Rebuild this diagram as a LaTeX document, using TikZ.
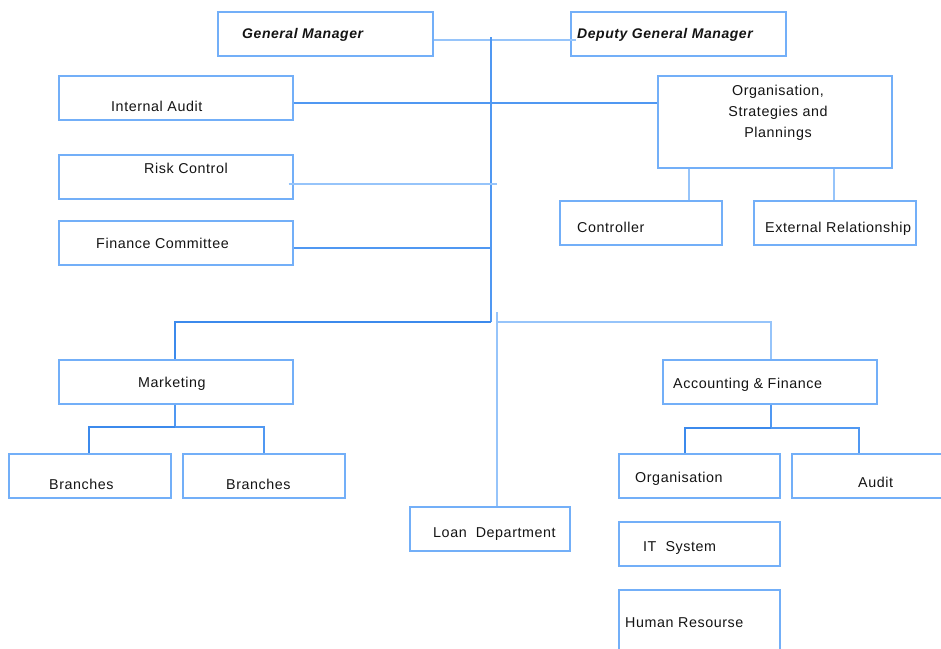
\documentclass[tikz,border=0pt]{standalone}
\usepackage{fontspec}
\setmainfont{Liberation Sans}[LetterSpace=4]
\definecolor{boxc}{RGB}{115,175,248}
\definecolor{thickc}{RGB}{60,138,236}
\definecolor{medc}{RGB}{80,152,242}
\definecolor{lightc}{RGB}{150,196,250}
\definecolor{txtc}{RGB}{20,20,20}
\begin{document}
\begin{tikzpicture}[x=1pt,y=-1pt,
  box/.style={draw=boxc, line width=1.6pt, rectangle, inner sep=0pt, anchor=north west},
  lbl/.style={anchor=base west, inner sep=0pt, text=txtc, font=\fontsize{14.3}{16}\selectfont},
  clbl/.style={lbl, anchor=base},
  thickl/.style={draw=thickc, line width=2.6pt},
  medl/.style={draw=medc, line width=2pt},
  lightl/.style={draw=lightc, line width=1.5pt}]
\useasboundingbox (0,0) rectangle (941,648);
\clip (0,0) rectangle (941,648);
\fill[white] (0,0) rectangle (941,648);

% boxes
\node[box, minimum width=215pt, minimum height=44pt] (gm)   at (217,11) {};
\node[box, minimum width=215pt, minimum height=44pt] (dgm)  at (570,11) {};
\node[box, minimum width=234pt, minimum height=44pt] (ia)   at (58,75) {};
\node[box, minimum width=234pt, minimum height=92pt] (osp)  at (657,75) {};
\node[box, minimum width=234pt, minimum height=44pt] (rc)   at (58,154) {};
\node[box, minimum width=162pt, minimum height=44pt] (ctl)  at (559,200) {};
\node[box, minimum width=162pt, minimum height=44pt] (ext)  at (753,200) {};
\node[box, minimum width=234pt, minimum height=44pt] (fc)   at (58,220) {};
\node[box, minimum width=234pt, minimum height=44pt] (mkt)  at (58,359) {};
\node[box, minimum width=214pt, minimum height=44pt] (acc)  at (662,359) {};
\node[box, minimum width=162pt, minimum height=44pt] (br1)  at (8,453) {};
\node[box, minimum width=162pt, minimum height=44pt] (br2)  at (182,453) {};
\node[box, minimum width=161pt, minimum height=44pt] (org)  at (618,453) {};
\node[box, minimum width=170pt, minimum height=44pt] (aud)  at (791,453) {};
\node[box, minimum width=160pt, minimum height=44pt] (loan) at (409,506) {};
\node[box, minimum width=161pt, minimum height=44pt] (its)  at (618,521) {};
\node[box, minimum width=161pt, minimum height=72pt] (hr)   at (618,589) {};

% texts
\node[lbl, font=\fontsize{14}{16}\selectfont\bfseries\itshape] (tgm)  at (242,38) {General Manager};
\node[lbl, font=\fontsize{14}{16}\selectfont\bfseries\itshape] (tdgm) at (577,38) {Deputy General Manager};
\node[lbl] (tia)  at (111,111) {Internal Audit};
\node[clbl] (tosp1) at (778,95)  {Organisation,};
\node[clbl] (tosp2) at (778,116) {Strategies and};
\node[clbl] (tosp3) at (778,137) {Plannings};
\node[lbl] (trc)  at (144,173) {Risk Control};
\node[lbl] (tctl) at (577,232) {Controller};
\node[lbl] (text) at (765,232) {External Relationship};
\node[lbl] (tfc)  at (96,248)  {Finance Committee};
\node[lbl] (tmkt) at (138,387) {Marketing};
\node[lbl] (tacc) at (673,388) {Accounting \& Finance};
\node[lbl] (tbr1) at (49,489)  {Branches};
\node[lbl] (tbr2) at (226,489) {Branches};
\node[lbl] (torg) at (635,482) {Organisation};
\node[lbl] (taud) at (858,487) {Audit};
\node[lbl] (tloan) at (433,537) {Loan\ \ Department};
\node[lbl] (tits) at (643,551) {IT\ \ System};
\node[lbl] (thr)  at (625,627) {Human Resourse};

% helper coordinates
\coordinate (tx)   at (491,0);
\coordinate (ttop) at (491,37);
\coordinate (tbot) at (491,322);
\coordinate (lx)   at (497,0);
\coordinate (ltop) at (497,312);
\coordinate (rRow) at (0,184);
\coordinate (rEnd) at (497,184);
\coordinate (iRow) at (0,103);
\coordinate (fRow) at (0,248);
\coordinate (bRow) at (0,322);
\coordinate (c1)   at (689,0);
\coordinate (c2)   at (834,0);
\coordinate (mx)   at (175,0);
\coordinate (mRow) at (0,427);
\coordinate (b1x)  at (89,0);
\coordinate (b2x)  at (264,0);
\coordinate (ax)   at (771,0);
\coordinate (aRow) at (0,428);
\coordinate (o1x)  at (685,0);
\coordinate (o2x)  at (859,0);

% connectors
\draw[lightl] ([yshift=-6pt]gm.east) -- ([xshift=6pt,yshift=-6pt]dgm.west);
\draw[medl] (ttop) -- (tbot);
\draw[medl] (ia.east |- iRow) -- (osp.west |- iRow);
\draw[lightl] ([xshift=-5pt]rc.east |- rRow) -- (rEnd);
\draw[medl] (fc.east |- fRow) -- (tx |- fRow);
\draw[lightl] (osp.south -| c1) -- (ctl.north -| c1);
\draw[lightl] (osp.south -| c2) -- (ext.north -| c2);
\draw[thickl] (tbot) -- (mx |- bRow) -- (mkt.north -| mx);
\draw[lightl] (ltop) -- (loan.north -| lx);
\draw[lightl] (lx |- bRow) -- (ax |- bRow) -- (acc.north -| ax);
\draw[medl] (mkt.south -| mx) -- (mx |- mRow);
\draw[thickl] (mx |- mRow) -- (b1x |- mRow) -- (br1.north -| b1x);
\draw[medl] (mx |- mRow) -- (b2x |- mRow) -- (br2.north -| b2x);
\draw[medl] (acc.south -| ax) -- (ax |- aRow);
\draw[thickl] (ax |- aRow) -- (o1x |- aRow) -- (org.north -| o1x);
\draw[medl] (ax |- aRow) -- (o2x |- aRow) -- (aud.north -| o2x);
\end{tikzpicture}
\end{document}
